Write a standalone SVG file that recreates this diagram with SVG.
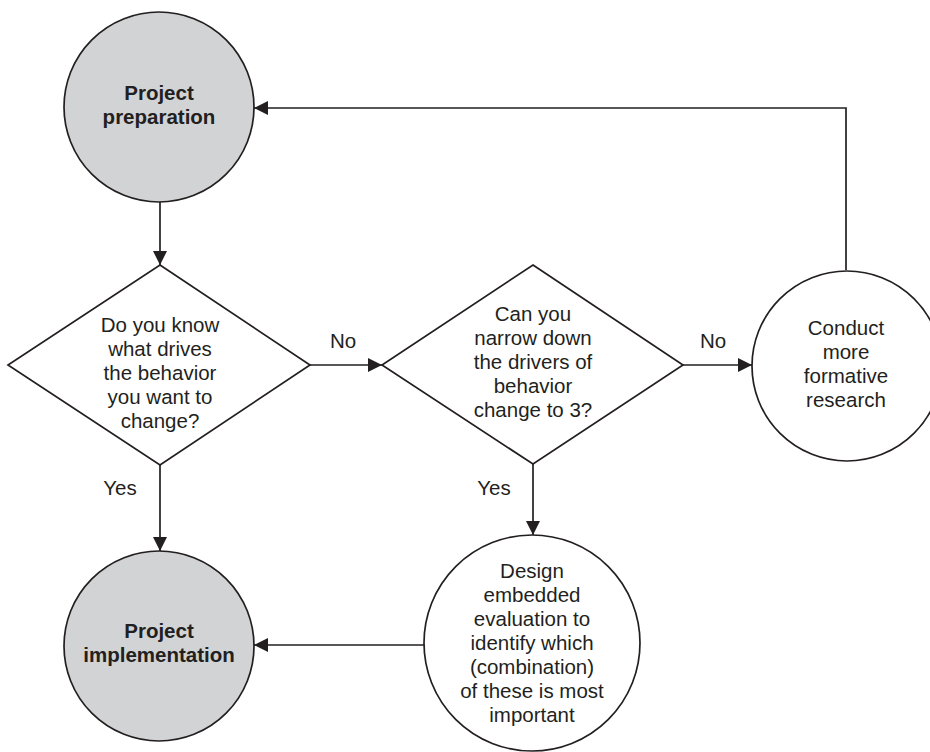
<svg xmlns="http://www.w3.org/2000/svg" width="930" height="752" viewBox="0 0 930 752">
<style>
.shape{stroke:#231f20;stroke-width:1.7;}
.grey{fill:#d2d3d5;}
.white{fill:#ffffff;}
.t{font-family:"Liberation Sans",Arial,sans-serif;font-size:20.5px;fill:#231f20;text-anchor:middle;}
.b{font-weight:bold;}
.conn{fill:none;stroke:#231f20;stroke-width:1.7;}
</style>
<defs>
<marker id="arr" markerUnits="userSpaceOnUse" markerWidth="15" markerHeight="14" refX="14" refY="7" orient="auto">
<path d="M0,0 L14,7 L0,14 z" fill="#231f20"/>
</marker>
</defs>
<rect width="930" height="752" fill="#ffffff"/>
<g id="connectors">
<path class="conn" d="M160,202 L160,265" marker-end="url(#arr)"/>
<path class="conn" d="M310,365 L382,365" marker-end="url(#arr)"/>
<path class="conn" d="M683,365 L752,365" marker-end="url(#arr)"/>
<path class="conn" d="M846,270 L846,108 L254,108" marker-end="url(#arr)"/>
<path class="conn" d="M160,465 L160,551" marker-end="url(#arr)"/>
<path class="conn" d="M533,464 L533,535" marker-end="url(#arr)"/>
<path class="conn" d="M424,645 L254,645" marker-end="url(#arr)"/>
<text class="t" x="343" y="348">No</text>
<text class="t" x="713" y="348">No</text>
<text class="t" x="120" y="495">Yes</text>
<text class="t" x="494" y="495">Yes</text>
</g>
<g id="project-preparation">
<circle class="shape grey" cx="159" cy="107" r="95"/>
<text class="t b" x="159" y="100">Project</text>
<text class="t b" x="159" y="124">preparation</text>
</g>
<g id="decision-know-drivers">
<polygon class="shape white" points="160,265 310,365 160,465 8,365"/>
<text class="t" x="160" y="332">Do you know</text>
<text class="t" x="160" y="356">what drives</text>
<text class="t" x="160" y="380">the behavior</text>
<text class="t" x="160" y="404">you want to</text>
<text class="t" x="160" y="428">change?</text>
</g>
<g id="decision-narrow-down">
<polygon class="shape white" points="533,265 683,365 533,464 382,365"/>
<text class="t" x="533" y="321">Can you</text>
<text class="t" x="533" y="345">narrow down</text>
<text class="t" x="533" y="369">the drivers of</text>
<text class="t" x="533" y="393">behavior</text>
<text class="t" x="533" y="417">change to 3?</text>
</g>
<g id="formative-research">
<circle class="shape white" cx="847" cy="366" r="95"/>
<text class="t" x="846" y="335">Conduct</text>
<text class="t" x="846" y="359">more</text>
<text class="t" x="846" y="383">formative</text>
<text class="t" x="846" y="407">research</text>
</g>
<g id="embedded-evaluation">
<circle class="shape white" cx="532" cy="643" r="108"/>
<text class="t" x="532" y="578">Design</text>
<text class="t" x="532" y="602">embedded</text>
<text class="t" x="532" y="626">evaluation to</text>
<text class="t" x="532" y="650">identify which</text>
<text class="t" x="532" y="674">(combination)</text>
<text class="t" x="532" y="698">of these is most</text>
<text class="t" x="532" y="722">important</text>
</g>
<g id="project-implementation">
<circle class="shape grey" cx="159" cy="646" r="95"/>
<text class="t b" x="159" y="638">Project</text>
<text class="t b" x="159" y="662">implementation</text>
</g>
</svg>
